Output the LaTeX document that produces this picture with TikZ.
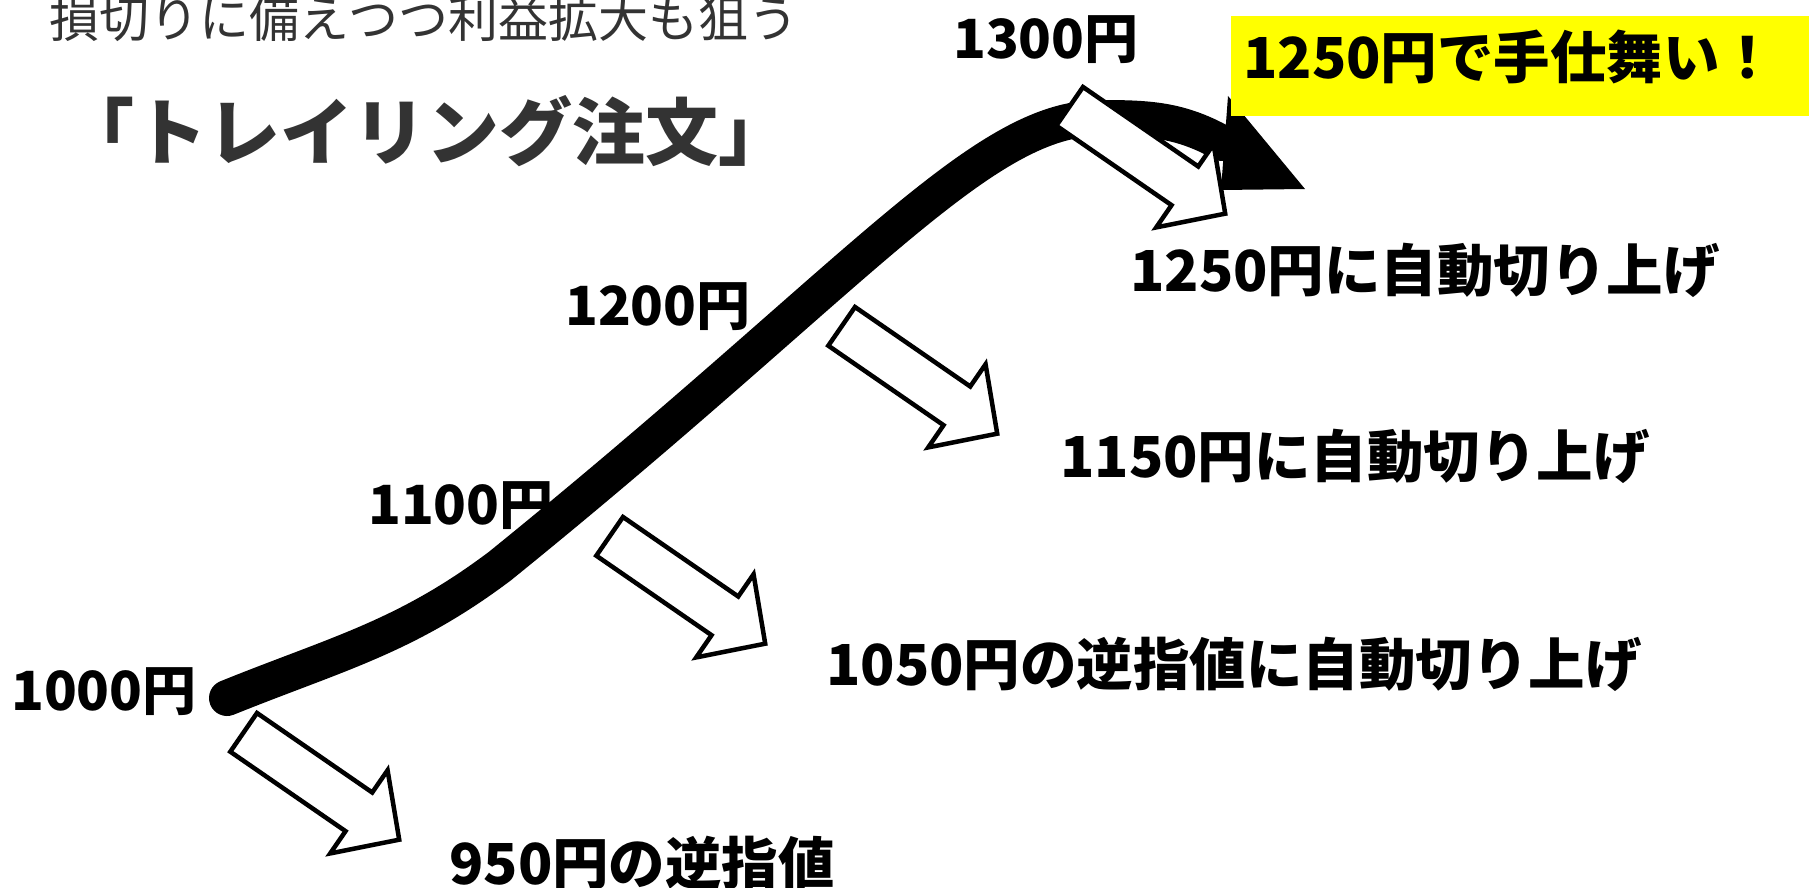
\documentclass[tikz,border=0pt]{standalone}
\usepackage{fontspec}
\usepackage{xcolor}
\usepackage{tikz}
\newfontfamily\jpfont{Noto Sans CJK JP}
\definecolor{titlegray}{HTML}{333333}
\definecolor{boxyellow}{HTML}{FFFF00}

\tikzset{
  lbl/.style={anchor=west,inner sep=0pt,font=\jpfont\bfseries\fontsize{54}{60}\selectfont},
  big/.style={anchor=west,inner sep=0pt,font=\jpfont\bfseries\fontsize{56.5}{64}\selectfont},
  downarrow/.pic={
    \draw[line width=4.5,fill=white] (0,0) -- (140,0) -- (140,27) -- (189,-23.5) -- (140,-74) -- (140,-47) -- (0,-47) -- cycle;
  }
}

\begin{document}
\begin{tikzpicture}[x=1pt,y=1pt,yscale=-1,xscale=1]
\useasboundingbox (0,0) rectangle (1809,888);

\draw (424,19) node (sub) [inner sep=0pt][text=titlegray,font=\jpfont\fontsize{50}{56}\selectfont] {損切りに備えつつ利益拡大も狙う};

\draw (426.5,131) node (title) [inner sep=0pt][text=titlegray,font=\jpfont\bfseries\fontsize{73}{80}\selectfont] {「トレイリング注文」};

% price line
\draw[line width=36,line cap=round] (227,698) to[out=-22,in=143] (500,566) .. controls (857.5,276.6) and (980,118) .. (1100,118) to[out=0,in=209] (1222,143);
\fill (1228,96) -- (1305,189) -- (1221,190) -- cycle;

\pic[rotate=-34.6] at (257,713) {downarrow};
\pic[rotate=-34.6] at (623,517) {downarrow};
\pic[rotate=-34.6] at (855,307) {downarrow};
\pic[rotate=-34.6] at (1083,87) {downarrow};

\fill[boxyellow] (1231,16) rectangle (1809,116);

\draw (1243,57) node (close) [big] {1250円で手仕舞い！};

\draw (11,692) node (l1000) [lbl] {1000円};
\draw (368,506) node (l1100) [lbl] {1100円};
\draw (565,307) node (l1200) [lbl] {1200円};
\draw (953,40) node (l1300) [lbl] {1300円};

\draw (449,863) node (t950) [big] {950円の逆指値};
\draw (826,664) node (t1050) [big] {1050円の逆指値に自動切り上げ};
\draw (1060,456) node (t1150) [big] {1150円に自動切り上げ};
\draw (1130,270) node (t1250) [big] {1250円に自動切り上げ};

\end{tikzpicture}
\end{document}
